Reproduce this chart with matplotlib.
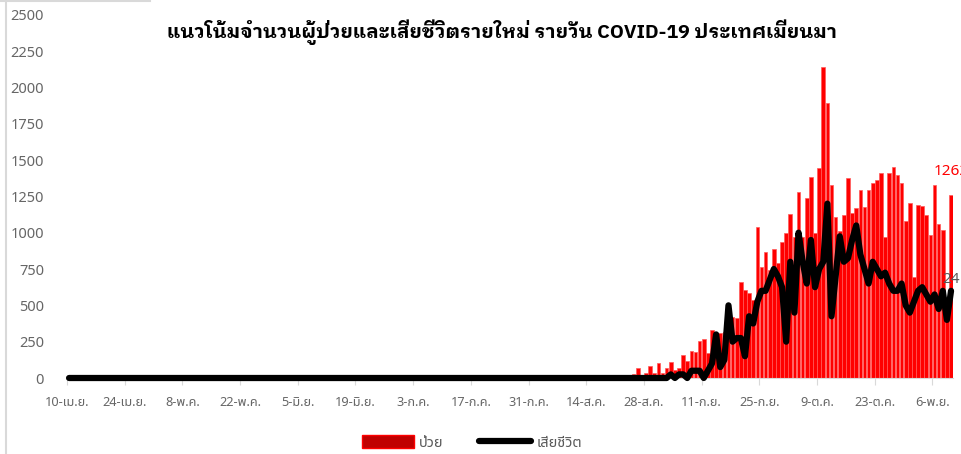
import matplotlib
matplotlib.use("Agg")
import matplotlib.pyplot as plt
import matplotlib.font_manager as fm
from matplotlib.ft2font import FT2Font
from matplotlib.patches import Patch
from matplotlib.lines import Line2D
import numpy as np

# ---------------- data ----------------
# daily values from 10 Apr (index 0) to 10 Nov (index 214)
cases_apr_aug13 = [
    0, 2, 4, 22, 3, 1, 2, 1, 0, 10,   # 10-19 Apr
    2, 1, 0, 1, 8, 2, 0, 1, 0, 1,     # 20-29 Apr
    0, 1, 0, 0, 0, 1, 0, 12, 0, 1,    # 30 Apr - 9 May
    1, 0, 0, 0, 1, 0, 0, 0, 0, 0,     # 10-19 May
    1, 0, 0, 0, 0, 0, 1, 0, 0, 0,     # 20-29 May
    0, 14, 0, 0, 1, 0, 0, 0, 0, 0,    # 30 May - 8 Jun
    0, 0, 8, 0, 0, 0, 0, 0, 0, 0,     # 9-18 Jun
    22, 0, 0, 0, 0, 0, 0, 0, 0, 0,    # 19-28 Jun
    0, 0, 0, 0, 0, 0, 0, 0, 0, 0,     # 29 Jun - 8 Jul
    0, 0, 0, 0, 0, 0, 0, 0, 0, 0,     # 9-18 Jul
    0, 0, 0, 0, 0, 0, 0, 0, 0, 0,     # 19-28 Jul
    0, 0, 0, 0, 0, 0, 0, 0, 0, 0,     # 29 Jul - 7 Aug
    0, 0, 0, 0, 0, 0,                 # 8-13 Aug
]
cases_aug14_31 = [2, 3, 3, 4, 5, 14, 6, 8, 12, 10, 18, 25, 69, 15, 37, 82, 37, 101]
cases_sep = [37, 71, 110, 55, 67, 158, 120, 186, 180, 252,
             266, 170, 330, 303, 307, 320, 290, 418, 413, 663,
             606, 587, 537, 1041, 762, 869, 743, 886, 789, 938]
cases_oct = [1000, 1129, 973, 1278, 973, 1241, 1385, 1000, 1448, 2138,
             1890, 1328, 1110, 1014, 1122, 1374, 1133, 1168, 1294, 1179,
             1294, 1344, 1360, 1409, 973, 1409, 1450, 1400, 1340, 1083, 1202]
cases_nov = [697, 1191, 1186, 1122, 984, 1328, 1060, 1019, 450, 1262]

deaths_apr_aug = [
    0, 0, 0, 0, 0, 0, 0, 0, 0, 0, 0, 0, 0, 0, 0, 0, 0, 0, 0, 0,
    0, 0, 0, 0, 0, 0, 0, 0, 0, 0, 0, 0, 0, 0, 0, 0, 0, 0, 0, 0,
    0, 0, 0, 0, 0, 0, 0, 0, 0, 0, 0, 0, 0, 0, 0, 0, 0, 0, 0, 0,
    0, 0, 0, 0, 0, 0, 0, 0, 0, 0, 0, 0, 0, 0, 0, 0, 0, 0, 0, 0,
    0, 0, 0, 0, 0, 0, 0, 0, 0, 0, 0, 0, 0, 0, 0, 0, 0, 0, 0, 0,
    0, 0, 0, 0, 0, 0, 0, 0, 0, 0, 0, 0, 0, 0, 0, 0, 0, 0, 0, 0,
    0, 0, 0, 0, 0, 0, 0, 0, 0, 0, 0, 0, 0, 0, 0, 0, 0, 0, 0, 0,
    0, 0, 0, 0,
]
deaths_sep = [0, 0, 1, 0, 1, 1, 0, 2, 2, 2,
              0, 2, 4, 12, 3, 5, 20, 10, 11, 11,
              6, 17, 15, 21, 24, 24, 27, 30, 28, 25]
deaths_oct = [10, 32, 18, 40, 32, 26, 38, 25, 30, 32,
              48, 17, 28, 39, 32, 33, 38, 42, 34, 30,
              26, 32, 30, 28, 29, 26, 24, 24, 26, 20, 18]
deaths_nov = [21, 24, 25, 23, 21, 23, 19, 24, 16, 24]

cases = cases_apr_aug13 + cases_aug14_31 + cases_sep + cases_oct + cases_nov
deaths = deaths_apr_aug + deaths_sep + deaths_oct + deaths_nov

tick_labels = ["10-เม.ย.", "24-เม.ย.", "8-พ.ค.", "22-พ.ค.", "5-มิ.ย.", "19-มิ.ย.",
               "3-ก.ค.", "17-ก.ค.", "31-ก.ค.", "14-ส.ค.", "28-ส.ค.", "11-ก.ย.",
               "25-ก.ย.", "9-ต.ค.", "23-ต.ค.", "6-พ.ย."]
y_ticks = [0, 250, 500, 750, 1000, 1250, 1500, 1750, 2000, 2250, 2500]

title = "แนวโน้มจำนวนผู้ป่วยและเสียชีวิตรายใหม่ รายวัน COVID-19 ประเทศเมียนมา"
legend_labels = ["ป่วย", "เสียชีวิต"]

# ---------------- fonts ----------------
def has_thai(path):
    try:
        f = FT2Font(path)
        cm = f.get_charmap()
        return 0x0E01 in cm and 0x0E35 in cm
    except Exception:
        return False

def is_bold(w):
    if isinstance(w, str):
        return w.lower() in ("bold", "semibold", "demibold", "heavy", "extra bold", "black")
    return w >= 600

thai, thai_bold = [], []
for fe in fm.fontManager.ttflist:
    if has_thai(fe.fname):
        if fe.name not in thai:
            thai.append(fe.name)
        if is_bold(fe.weight) and fe.name not in thai_bold:
            thai_bold.append(fe.name)
prefs = ["Noto Sans Thai", "Noto Sans Thai UI", "Noto Sans Thai Looped", "Sarabun",
         "IBM Plex Sans Thai Looped", "Loma"]
chosen = [p for p in prefs if p in thai][:1] or thai[:1]
bold_prefs = ["IBM Plex Sans Thai Looped", "Noto Sans Thai UI", "Noto Sans Thai",
              "Noto Sans Thai Looped", "IBM Plex Sans Thai", "Sarabun", "Loma"]
chosen_bold = [p for p in bold_prefs if p in thai_bold][:1] or chosen
plt.rcParams["font.family"] = chosen + ["Noto Sans", "DejaVu Sans"]

# ---------------- plot ----------------
n = len(cases)
x = np.arange(n) + 0.5
fig = plt.figure(figsize=(9.61, 4.54), dpi=100)
ax = fig.add_axes([67 / 961, 76 / 454, (953.5 - 67) / 961, (378 - 14.75) / 454])
ax.bar(x, cases, width=0.88, color="#ff0000", edgecolor="#ff5a5a", linewidth=0.5, zorder=2)
ax.set_xlim(0, 215.1)
ax.set_ylim(0, 2500)
ax.set_yticks(y_ticks)
ax.set_yticklabels([str(v) for v in y_ticks])
ax.set_xticks(np.arange(len(tick_labels)) * 14)
ax.set_xticklabels(tick_labels)
for s in ["top", "right", "left"]:
    ax.spines[s].set_visible(False)
ax.spines["bottom"].set_color("#d9d9d9")
ax.tick_params(axis="y", length=0, pad=16.5, labelsize=10.5, labelcolor="#666666")
ax.tick_params(axis="x", length=5, color="#d9d9d9", pad=8, labelsize=9.2, labelcolor="#666666")

ax2 = ax.twinx()
ax2.set_ylim(0, 100)
ax2.plot(x, deaths, color="black", lw=4.5, solid_joinstyle="round", solid_capstyle="round",
         zorder=3, clip_on=False)
ax2.axis("off")

ax.annotate(str(cases[-1]), (x[-1], cases[-1]), xytext=(0, 11), textcoords="offset points",
            ha="center", va="bottom", color="#ff0000", fontsize=11, annotation_clip=False)
ax2.annotate(str(deaths[-1]), (x[-1], deaths[-1]), xytext=(0, 2.5), textcoords="offset points",
             ha="center", va="bottom", color="#595959", fontsize=11, annotation_clip=False)

fig.text(0.5225, 1 - 32 / 454, title, ha="center", va="center", fontsize=14, fontweight="bold",
         color="black", family=chosen_bold + ["Noto Sans", "DejaVu Sans"])

handles = [Patch(facecolor="#c00000", edgecolor="#ff0000", linewidth=1),
           Line2D([0], [0], color="black", lw=4.5, solid_capstyle="round")]
fig.legend(handles, legend_labels, loc="center", bbox_to_anchor=(0.491, 11 / 454), ncol=2,
           frameon=False, fontsize=10.5, labelcolor="#595959", handlelength=3.6, handleheight=1.0,
           handletextpad=0.35, columnspacing=2.4)

# chart frame fragments
fig.add_artist(Line2D([5.5 / 961, 5.5 / 961], [0, 1], color="#d9d9d9", lw=1.5))
fig.add_artist(Line2D([0, 150 / 961], [1 - 1 / 454, 1 - 1 / 454], color="#d9d9d9", lw=1.5))

fig.savefig("out.png", dpi=100)
